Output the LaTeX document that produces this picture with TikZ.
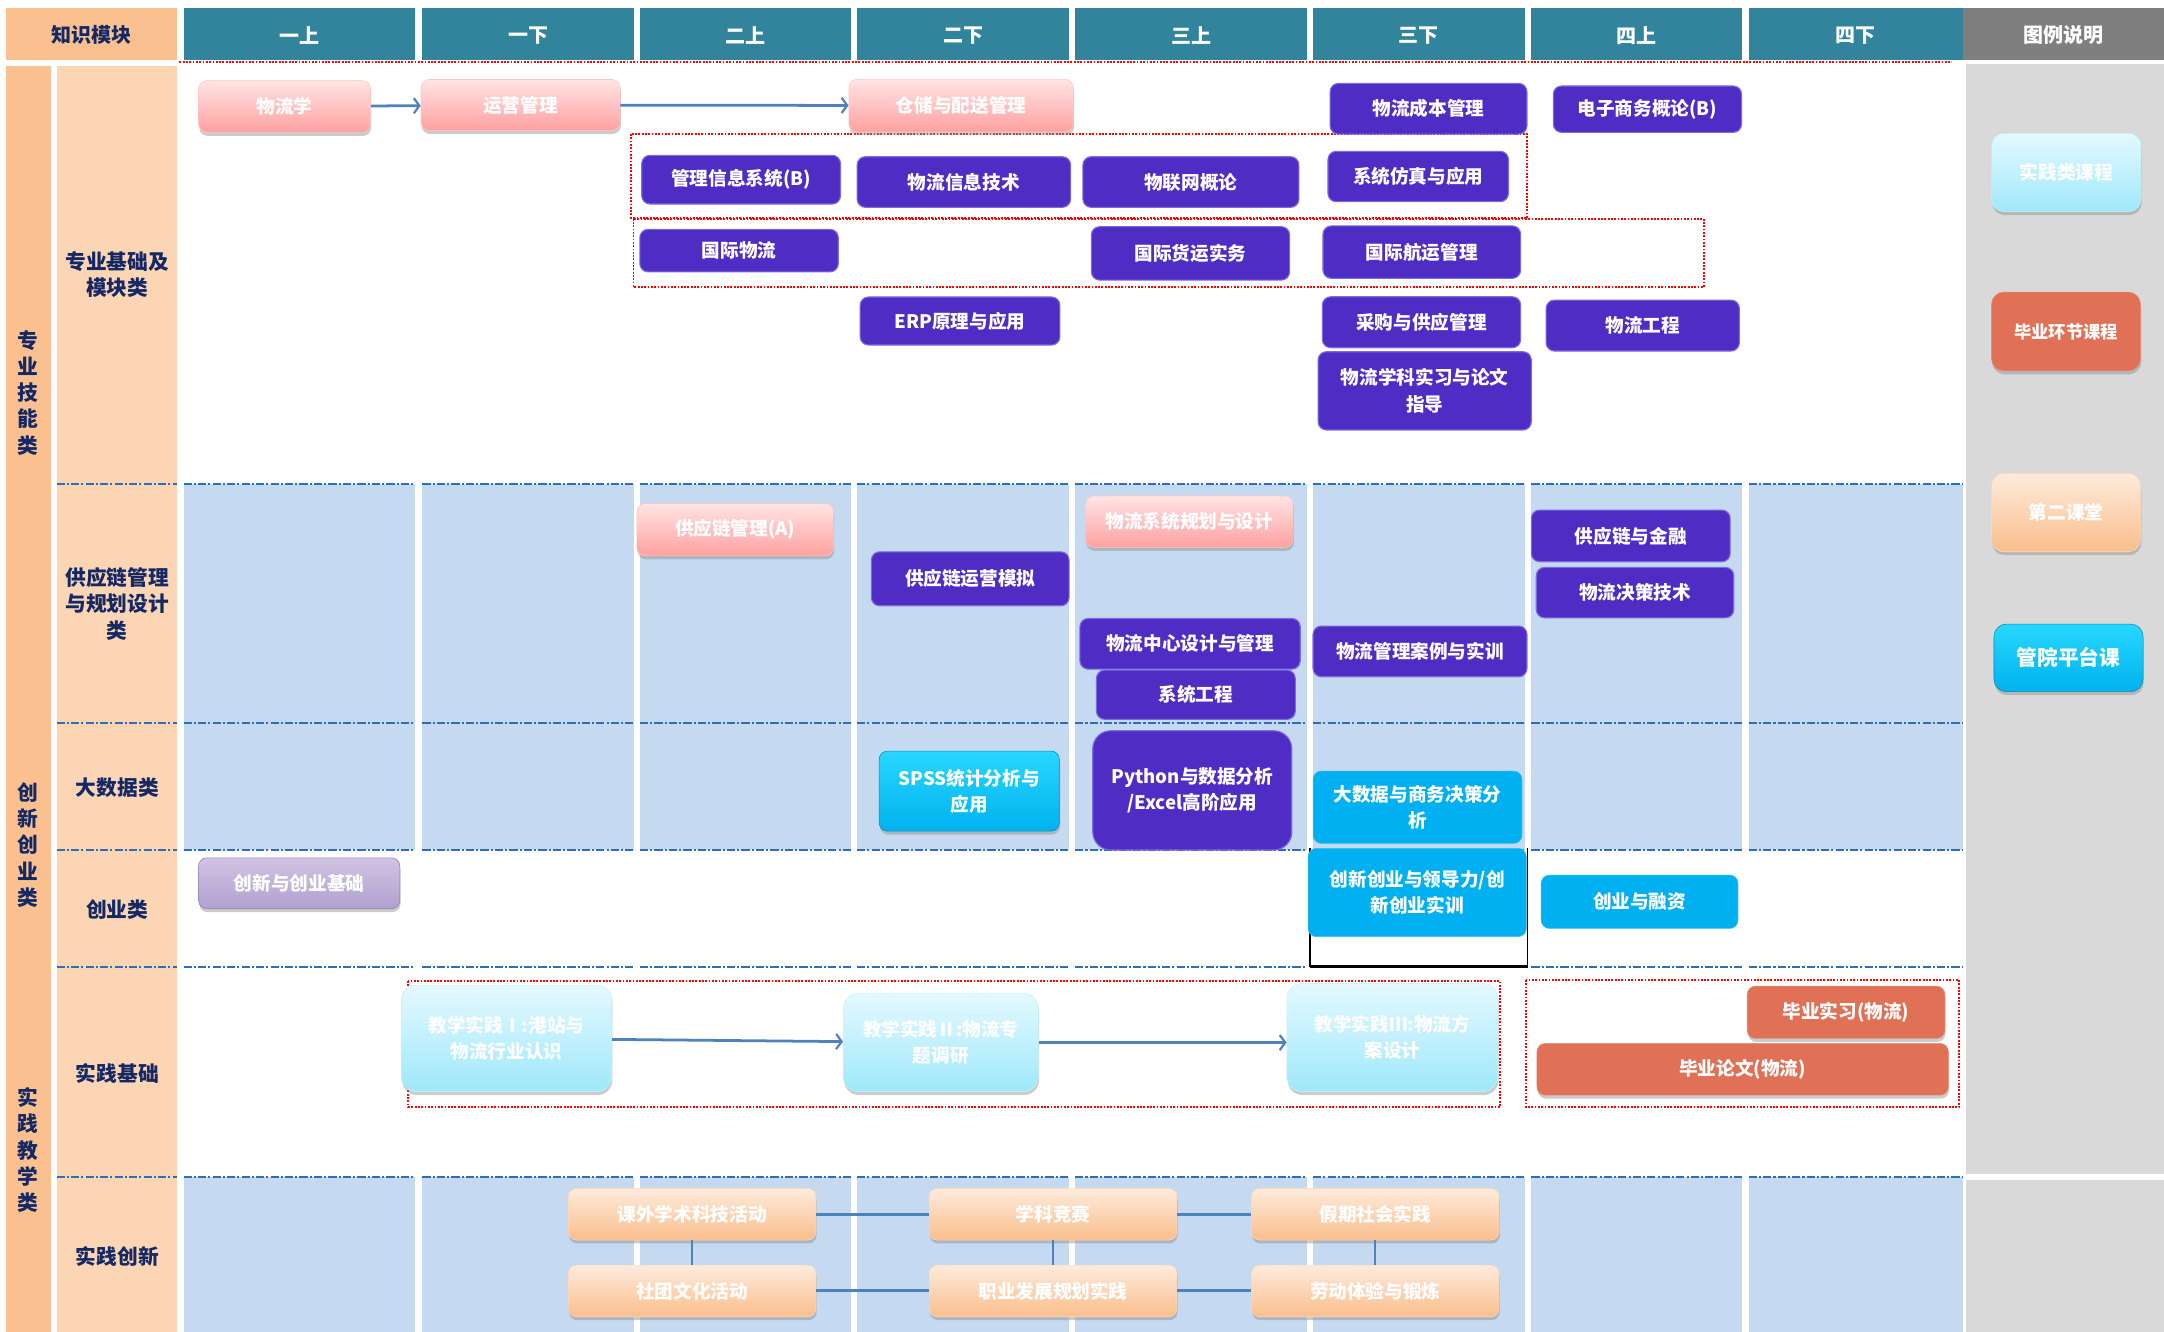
\documentclass[tikz,border=0pt]{standalone}
\usepackage{fontspec}
\setmainfont{Noto Sans CJK SC}
\usetikzlibrary{arrows.meta,shadows}

\definecolor{headteal}{RGB}{49,132,155}
\definecolor{keyhead}{RGB}{127,127,127}
\definecolor{keygray}{RGB}{217,217,217}
\definecolor{stripdark}{RGB}{250,192,144}
\definecolor{striplight}{RGB}{252,213,181}
\definecolor{rowblue}{RGB}{197,217,241}
\definecolor{rowline}{RGB}{46,110,182}
\definecolor{navy}{RGB}{20,40,100}
\definecolor{corepurple}{RGB}{79,45,196}
\definecolor{purpleedge}{RGB}{125,105,225}
\definecolor{flatcyan}{RGB}{0,176,240}
\definecolor{brighttop}{RGB}{40,215,255}
\definecolor{brightbot}{RGB}{0,178,238}
\definecolor{gradred}{RGB}{224,113,86}
\definecolor{pinktop}{RGB}{255,228,228}
\definecolor{pinkbot}{RGB}{255,160,160}
\definecolor{icetop}{RGB}{228,249,255}
\definecolor{icebot}{RGB}{158,232,250}
\definecolor{peachtop}{RGB}{253,235,220}
\definecolor{peachbot}{RGB}{250,190,140}
\definecolor{lilactop}{RGB}{210,195,228}
\definecolor{lilacbot}{RGB}{176,160,208}
\definecolor{flowblue}{RGB}{79,129,189}

\tikzstyle{every picture} = [x=1pt,y=-1pt]
\tikzstyle{course} = [rounded corners=6pt,text=white,align=center,inner sep=0pt,minimum height=37pt,font=\bfseries\fontsize{13.5}{19}\selectfont]
\tikzstyle{softshadow} = [drop shadow={shadow xshift=0.5pt,shadow yshift=-2.5pt,fill=black!45,opacity=.45}]
\tikzstyle{core} = [course,fill=corepurple,draw=purpleedge,line width=0.8pt]
\tikzstyle{pinkcourse} = [course,softshadow,top color=pinktop,bottom color=pinkbot,draw=pinkbot!60!white]
\tikzstyle{icecourse} = [course,softshadow,top color=icetop,bottom color=icebot,draw=icebot!60!white]
\tikzstyle{peachcourse} = [course,softshadow,top color=peachtop,bottom color=peachbot,draw=peachbot!60!white]
\tikzstyle{lilaccourse} = [course,softshadow,top color=lilactop,bottom color=lilacbot,draw=lilacbot!80!black]
\tikzstyle{brightcourse} = [course,softshadow,top color=brighttop,bottom color=brightbot,draw=brightbot!80!black]
\tikzstyle{flatcourse} = [course,fill=flatcyan,draw=flatcyan!80!white]
\tikzstyle{thesis} = [course,softshadow,fill=gradred,draw=gradred!80!white]
\tikzstyle{headtext} = [text=white,inner sep=0pt,font=\bfseries\fontsize{14.5}{18}\selectfont]
\tikzstyle{sidelabel} = [text=navy,align=center,inner sep=0pt,font=\bfseries\fontsize{15}{19}\selectfont]
\tikzstyle{reddot} = [red,line width=1.4pt,dash pattern=on 1.3pt off 1.1pt]
\tikzstyle{rowdash} = [rowline,line width=1.6pt,dash pattern=on 6pt off 1.5pt on 1.5pt off 1.5pt]
\tikzstyle{flow} = [draw=flowblue,line width=2pt,-{Straight Barb[length=4pt,width=11pt,line width=1.6pt]}]
\tikzstyle{link} = [draw=flowblue,line width=2.2pt]

\begin{document}
\begin{tikzpicture}
\useasboundingbox (0,0) rectangle (1568,965);

% header and side strips
\fill[stripdark] (4,5.8) rectangle (128.6,43.5);
\fill[keyhead] (1422.6,5.8) rectangle (1568,43.5);
\fill[stripdark] (4,47.8) rectangle (37,965);
\fill[striplight] (41,47.8) rectangle (128.6,965);
\fill[keygray] (1424.6,46.4) rectangle (1568,850.7);
\fill[keygray] (1424.6,855) rectangle (1568,965);

\foreach \i/\l/\r/\t in {1/133/301/一上,2/306/459.5/一下,3/463.6/616.6/二上,4/621/774.7/二下,5/779/947/三上,6/951.4/1104.8/三下,7/1109.5/1262/四上,8/1267/1422/四下}
{
  \fill[headteal] (\l,5.8) rectangle (\r,43.5);
  \node (head \i) at ({(\l+\r)/2},25.5) [headtext] {\t};
  \fill[rowblue] (\l,350.7) rectangle (\r,615.7);
  \fill[rowblue] (\l,852.7) rectangle (\r,965);
}
\foreach \l/\r in {41/128.6,133/301,306/459.5,463.6/616.6,621/774.7,779/947,951.4/1104.8,1109.5/1262,1267/1422}
  \foreach \y in {350.7,523.7,615.7,700.5,852.7}
    \draw[rowdash] (\l,\y) -- (\r,\y);
\draw[reddot] (130,44.6) -- (1414,44.6);

\node (head 0) at (66.3,25.5) [headtext,text=navy] {知识模块};
\node (head 9) at (1495.3,25.5) [headtext] {图例说明};

% row labels
\node (label 1) at (20.5,284.5) [sidelabel] {专\\业\\技\\能\\类};
\node (label 2) at (20.5,612.3) [sidelabel] {创\\新\\创\\业\\类};
\node (label 3) at (20.5,833.4) [sidelabel] {实\\践\\教\\学\\类};
\node (label 4) at (85,199) [sidelabel] {专业基础及\\模块类};
\node (label 5) at (85,437.5) [sidelabel] {供应链管理\\与规划设计\\类};
\node (label 6) at (85,571) [sidelabel] {大数据类};
\node (label 7) at (85,659) [sidelabel] {创业类};
\node (label 8) at (85,777.8) [sidelabel] {实践基础};
\node (label 9) at (85,910.6) [sidelabel] {实践创新};

% dotted groups
\draw[reddot] (457.5,97.1) rectangle (1106.4,158.2);
\draw[reddot] (459,158.5) rectangle (1234.5,208.2);
\draw[reddot] (295.8,710.9) rectangle (1086.8,802.2);
\draw[reddot] (1105.9,710.1) rectangle (1419.5,802.4);
\draw[black,line width=1.1pt] (949.3,614.7) -- (949.3,700.5);
\draw[black,line width=1.1pt] (1106.9,614.7) -- (1106.9,700.5);
\draw[black,line width=2pt] (949.3,700.5) -- (1106.9,700.5);

% professional courses
\node (box 1) at (206.2,77.2) [pinkcourse,minimum width=124.5pt,minimum height=37.5pt] {物流学};
\node (box 2) at (377.2,76.1) [pinkcourse,minimum width=144.3pt] {运营管理};
\node (box 3) at (696.4,76.5) [pinkcourse,minimum width=162.7pt,minimum height=38pt] {仓储与配送管理};
\node (box 4) at (537,130.2) [core,minimum width=144pt,minimum height=35.3pt] {管理信息系统(B)};
\node (box 5) at (698.4,131.9) [core,minimum width=154.7pt,minimum height=36.7pt] {物流信息技术};
\node (box 6) at (862.9,131.9) [core,minimum width=156.5pt,minimum height=36.7pt] {物联网概论};
\node (box 7) at (1027.6,127.9) [core,minimum width=130.8pt,minimum height=36.5pt] {系统仿真与应用};
\node (box 8) at (1035.1,78.8) [core,minimum width=142.6pt,minimum height=36.7pt] {物流成本管理};
\node (box 9) at (1193.7,79.1) [core,minimum width=136.4pt,minimum height=33.6pt] {电子商务概论(B)};
\node (box 10) at (535.5,181.6) [core,minimum width=143.8pt,minimum height=30.8pt] {国际物流};
\node (box 11) at (862.6,183.6) [core,minimum width=143.6pt,minimum height=38.7pt] {国际货运实务};
\node (box 12) at (1030.2,182.7) [core,minimum width=143.2pt,minimum height=38pt] {国际航运管理};
\node (box 13) at (695.6,232.6) [core,minimum width=144.7pt,minimum height=34.8pt] {ERP原理与应用};
\node (box 14) at (1030,233.5) [core,minimum width=143.7pt,minimum height=36.9pt] {采购与供应管理};
\node (box 15) at (1190.3,235.9) [core,minimum width=140pt,minimum height=36.9pt] {物流工程};
\node (box 16) at (1032.3,283.2) [core,minimum width=154.5pt,minimum height=56.7pt] {物流学科实习与论文\\指导};

% supply chain
\node (box 17) at (532.7,383.8) [pinkcourse,minimum width=142.4pt,minimum height=37.9pt] {供应链管理(A)};
\node (box 18) at (703,419.4) [core,minimum width=143.3pt,minimum height=39.1pt] {供应链运营模拟};
\node (box 19) at (861.8,378) [pinkcourse,minimum width=150.4pt,minimum height=37.2pt] {物流系统规划与设计};
\node (box 20) at (862.3,466.5) [core,minimum width=159.6pt,minimum height=36.7pt] {物流中心设计与管理};
\node (box 21) at (866.5,503.4) [core,minimum width=144.1pt,minimum height=35.7pt] {系统工程};
\node (box 22) at (1028.9,472) [core,minimum width=155pt,minimum height=36.7pt] {物流管理案例与实训};
\node (box 23) at (1181.6,388.3) [core,minimum width=144.1pt,minimum height=37.4pt] {供应链与金融};
\node (box 24) at (1184.7,429.4) [core,minimum width=143.1pt,minimum height=36.5pt] {物流决策技术};

% big data and startup
\node (box 25) at (702.3,573.2) [brightcourse,minimum width=130.5pt,minimum height=58pt] {SPSS统计分析与\\应用};
\node (box 26) at (863.9,572.7) [core,rounded corners=13pt,minimum width=144.2pt,minimum height=86.4pt] {Python与数据分析\\/Excel高阶应用};
\node (box 27) at (1027.1,584.9) [flatcourse,minimum width=151.4pt,minimum height=52.4pt] {大数据与商务决策分\\析};
\node (box 28) at (216.8,640) [lilaccourse,minimum width=145.8pt,minimum height=36.9pt] {创新与创业基础};
\node (box 29) at (1026.9,646.7) [flatcourse,minimum width=158.1pt,minimum height=64pt] {创新创业与领导力/创\\新创业实训};
\node (box 30) at (1188,653.4) [flatcourse,minimum width=142.6pt,minimum height=38.7pt] {创业与融资};

% practice
\node (box 31) at (367,752.4) [icecourse,rounded corners=11pt,minimum width=152.5pt,minimum height=77.2pt] {教学实践Ⅰ:港站与\\物流行业认识};
\node (box 32) at (681.7,755.4) [icecourse,rounded corners=11pt,minimum width=141.3pt,minimum height=71.2pt] {教学实践Ⅱ:物流专\\题调研};
\node (box 33) at (1008.9,751.8) [icecourse,rounded corners=11pt,minimum width=152.9pt,minimum height=78.4pt] {教学实践Ⅲ:物流方\\案设计};
\node (box 34) at (1337.6,733.5) [thesis,minimum width=143.2pt,minimum height=37.9pt] {毕业实习(物流)};
\node (box 35) at (1262.7,774.8) [thesis,minimum width=298.1pt,minimum height=37.5pt] {毕业论文(物流)};
\node (box 36) at (501.5,879.8) [peachcourse,minimum width=179.5pt,minimum height=37.4pt] {课外学术科技活动};
\node (box 37) at (763,879.8) [peachcourse,minimum width=179.5pt,minimum height=37.4pt] {学科竞赛};
\node (box 38) at (996.5,879.8) [peachcourse,minimum width=179.5pt,minimum height=37.4pt] {假期社会实践};
\node (box 39) at (501.5,935.4) [peachcourse,minimum width=179.5pt,minimum height=37.4pt] {社团文化活动};
\node (box 40) at (763,935.4) [peachcourse,minimum width=179.5pt,minimum height=37.4pt] {职业发展规划实践};
\node (box 41) at (996.5,935.4) [peachcourse,minimum width=179.5pt,minimum height=37.4pt] {劳动体验与锻炼};

% legend
\node (key 1) at (1497.2,125) [icecourse,rounded corners=9pt,minimum width=108.2pt,minimum height=56.8pt] {实践类课程};
\node (key 2) at (1497,240.2) [thesis,rounded corners=9pt,minimum width=108pt,minimum height=57.2pt,font=\bfseries\fontsize{12.5}{16}\selectfont] {毕业环节课程};
\node (key 3) at (1497,371.4) [peachcourse,rounded corners=9pt,minimum width=108pt,minimum height=56.8pt] {第二课堂};
\node (key 4) at (1498.8,476.7) [brightcourse,rounded corners=9pt,minimum width=108pt,minimum height=49pt,font=\bfseries\fontsize{15}{18}\selectfont] {管院平台课};

\path (box 1) edge[flow] (box 2)
      (box 2) edge[flow] (box 3)
      (box 31) edge[flow] (box 32)
      (box 32.east) edge[flow] (box 32.east -| box 33.west)
      (box 36) edge[link] (box 37)
      (box 37) edge[link] (box 38)
      (box 39) edge[link] (box 40)
      (box 40) edge[link] (box 41)
      (box 36) edge[link,line width=1.5pt] (box 39)
      (box 37) edge[link,line width=1.5pt] (box 40)
      (box 38) edge[link,line width=1.5pt] (box 41);

\end{tikzpicture}
\end{document}
